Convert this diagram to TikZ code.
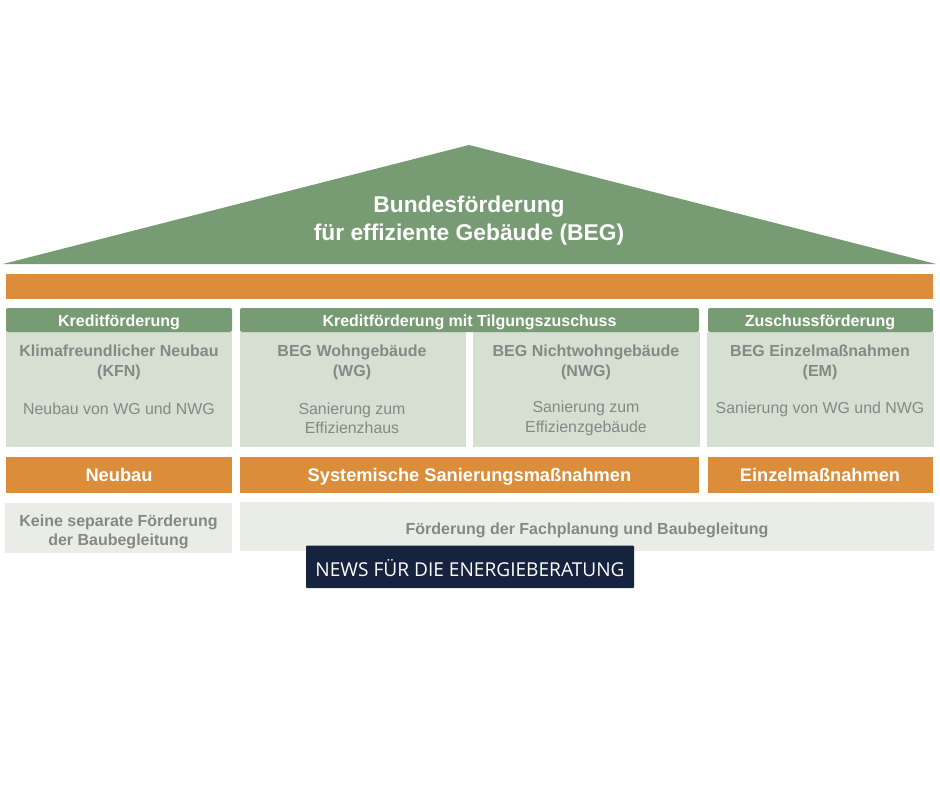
\documentclass[tikz,border=0pt]{standalone}
\usepackage{fontspec}
\setmainfont{Liberation Sans}
\newfontfamily\bannerfont{Open Sans}
\definecolor{roofgreen}{HTML}{779B73}
\definecolor{palegreen}{HTML}{D5DFD2}
\definecolor{barorange}{HTML}{DB8D3A}
\definecolor{palegray}{HTML}{EAECE7}
\definecolor{textgray}{HTML}{848985}
\definecolor{bannerblue}{HTML}{15233F}
\tikzset{
 headtext/.style={text=white,font=\fontsize{16}{17}\selectfont\bfseries,align=center},
 bartext/.style={text=white,font=\fontsize{18.25}{20}\selectfont\bfseries,align=center},
 boldgray/.style={text=textgray,font=\fontsize{16}{19.3}\selectfont\bfseries,align=center},
 plaingray/.style={text=textgray,font=\fontsize{15.9}{19.3}\selectfont,align=center},
}
\begin{document}
\begin{tikzpicture}[x=1pt,y=-1pt]
 \useasboundingbox (0,0) rectangle (940,788);
 \fill[white] (0,0) rectangle (940,788);
 % roof
 \fill[roofgreen] (3,264)--(469,145)--(936,264)--cycle;
 \node[text=white,font=\fontsize{22.8}{28}\selectfont\bfseries,align=center] (roof) at (469,221) {Bundesförderung\\für effiziente Gebäude (BEG)};
 \fill[barorange] (6,274) rectangle (933,299);
 % green heads
 \fill[palegreen] (6,332) rectangle (232,447);
 \fill[palegreen] (240,332) rectangle (466,447);
 \fill[palegreen] (473,332) rectangle (700,447);
 \fill[palegreen] (707,332) rectangle (934,447);
 \fill[roofgreen,rounded corners=2pt] (6,308) rectangle (232,332);
 \fill[roofgreen,rounded corners=2pt] (240,308) rectangle (699,332);
 \fill[roofgreen,rounded corners=2pt] (708,308) rectangle (933,332);
 \node[headtext] (kredit) at (119,322) {Kreditförderung};
 \node[headtext] (tilgung) at (469.5,322) {Kreditförderung mit Tilgungszuschuss};
 \node[headtext] (zuschuss) at (820,322) {Zuschussförderung};
 % programmes
 \node[boldgray] (kfn) at (119,362.5) {Klimafreundlicher Neubau\\(KFN)};
 \node[boldgray] (wg) at (352,362.5) {BEG Wohngebäude\\(WG)};
 \node[boldgray] (nwg) at (586,362.5) {BEG Nichtwohngebäude\\(NWG)};
 \node[boldgray] (em) at (820,362.5) {BEG Einzelmaßnahmen\\(EM)};
 \node[plaingray] (kfntext) at (119,409) {Neubau von WG und NWG};
 \node[plaingray] (wgtext) at (352,418) {Sanierung zum\\Effizienzhaus};
 \node[plaingray] (nwgtext) at (586,418.5) {Sanierung zum\\Effizienzgebäude};
 \node[plaingray] (emtext) at (820,409) {Sanierung von WG und NWG};
 % orange row
 \fill[barorange] (6,457) rectangle (232,492.5);
 \fill[barorange] (240,457) rectangle (699,492.5);
 \fill[barorange] (708,457) rectangle (933,492.5);
 \node[bartext] (neubau) at (119,475) {Neubau};
 \node[bartext] (system) at (469.5,476.5) {Systemische Sanierungsmaßnahmen};
 \node[bartext] (einzel) at (820,475) {Einzelmaßnahmen};
 % bottom row
 \fill[palegray] (5,503) rectangle (232,552.5);
 \fill[palegray] (240,501.5) rectangle (934,551);
 \node[boldgray] (keine) at (118.5,532) {Keine separate Förderung\\der Baubegleitung};
 \node[boldgray] (fach) at (587,530) {Förderung der Fachplanung und Baubegleitung};
 % banner
 \fill[bannerblue,rounded corners=1pt] (306,545.5) rectangle (634,588);
 \node[text=white,font=\bannerfont\fontsize{19.1}{20}\selectfont] (news) at (470,568) {NEWS FÜR DIE ENERGIEBERATUNG};
\end{tikzpicture}
\end{document}
